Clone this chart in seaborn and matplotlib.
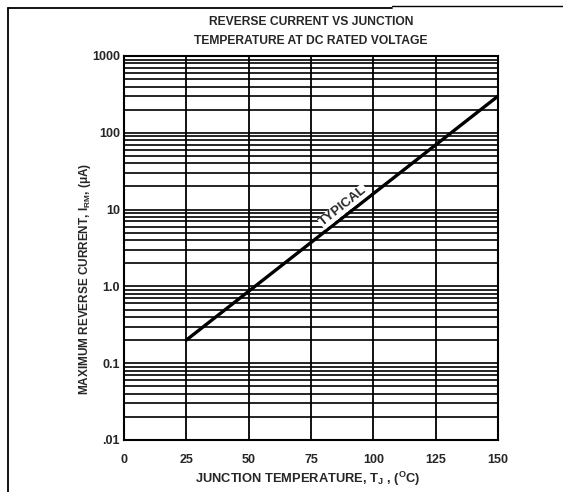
import matplotlib
matplotlib.use("Agg")
import matplotlib.pyplot as plt
import seaborn as sns
import pandas as pd
import numpy as np
from matplotlib.lines import Line2D

sns.set_style("white")
plt.rcParams['font.family'] = ['Liberation Sans', 'DejaVu Sans']

# Data
temperature = [25, 150]
reverse_current = [0.2, 300]
x_ticks = [0, 25, 50, 75, 100, 125, 150]
y_ticks = [0.01, 0.1, 1, 10, 100, 1000]
y_tick_labels = [".01", "0.1", "1.0", "10", "100", "1000"]

df = pd.DataFrame({"T": temperature, "I": reverse_current})

fig = plt.figure(figsize=(5.63, 4.92), dpi=100)
ax = fig.add_axes([0.2202, 0.1057, 0.6643, 0.7805])

# outer frame lines
fig.add_artist(Line2D([8/563, 8/563], [0, 1 - 8/492], transform=fig.transFigure, color='black', lw=1.3))
fig.add_artist(Line2D([8/563, 392/563], [1 - 8/492, 1 - 8/492], transform=fig.transFigure, color='black', lw=1.3))
fig.add_artist(Line2D([392/563, 1], [1 - 6/492, 1 - 6/492], transform=fig.transFigure, color='black', lw=1.0))

ax.set_yscale('log')
ax.set_xlim(0, 150)
ax.set_ylim(0.01, 1000)

# grid
for x in x_ticks:
    ax.axvline(x, color='black', lw=1.3, zorder=1)
for dec in [0.01, 0.1, 1, 10, 100]:
    for m in range(1, 10):
        ax.axhline(dec * m, color='black', lw=1.2, zorder=1)
ax.axhline(1000, color='black', lw=1.2, zorder=1)

sns.lineplot(data=df, x="T", y="I", ax=ax, color='black', lw=2.4, zorder=3)

ax.set_xticks(x_ticks)
ax.set_xticklabels([str(v) for v in x_ticks], fontsize=9, fontweight='bold')
ax.set_yticks(y_ticks)
ax.set_yticklabels(y_tick_labels, fontsize=9, fontweight='bold')
ax.yaxis.set_minor_locator(matplotlib.ticker.NullLocator())
ax.tick_params(axis='x', length=0, pad=10)
ax.tick_params(axis='y', length=0, pad=3)

for s in ax.spines.values():
    s.set_color('black')
    s.set_linewidth(1.5)

ax.set_xlabel("JUNCTION TEMPERATURE, T$_\\mathregular{J}$ , ($^\\mathregular{O}$C)", fontsize=9.3, fontweight='bold')
ax.set_ylabel("MAXIMUM REVERSE CURRENT, I$_\\mathregular{RM}$, (\u03bcA)", fontsize=8.5, fontweight='bold')
ax.xaxis.set_label_coords(0.492, -0.078)
ax.yaxis.set_label_coords(-0.082, 0.42)

fig.text(311/563, 1 - 22/492, "REVERSE CURRENT VS JUNCTION", ha='center', va='center', fontsize=8.7, fontweight='bold')
fig.text(311/563, 1 - 41/492, "TEMPERATURE AT DC RATED VOLTAGE", ha='center', va='center', fontsize=8.7, fontweight='bold')

ax.text(88, 11.0, "TYPICAL", rotation=38.5, rotation_mode='anchor', ha='center', va='center',
        fontsize=9.5, fontweight='bold', zorder=4,
        bbox=dict(facecolor='white', edgecolor='none', pad=0.5))

fig.savefig("out.png", dpi=100)
